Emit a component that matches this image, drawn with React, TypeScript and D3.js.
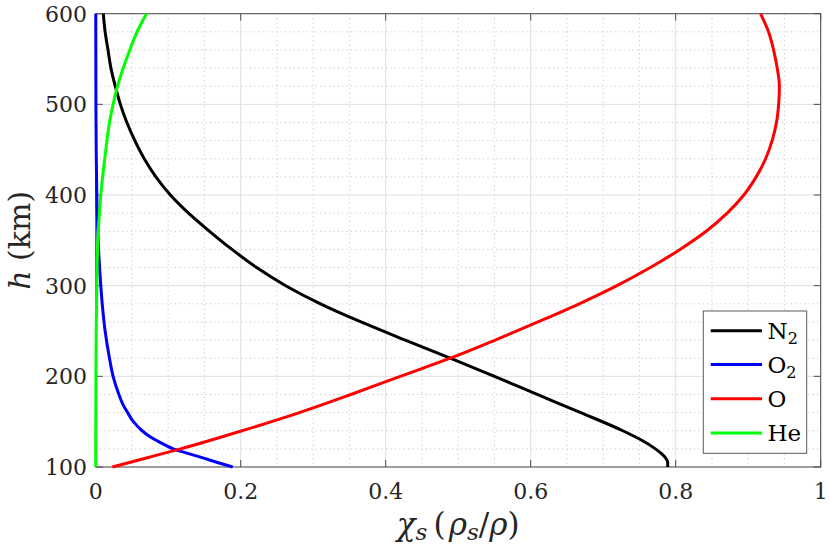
import React from "react";
import * as d3 from "d3";

// Altitude grids (km) and mass fractions
const hN2 = [100, 105, 110, 115, 120, 130, 140, 160, 180, 200, 220, 240, 260, 280, 300, 320, 340, 360, 380, 400, 420, 440, 460, 480, 500, 520, 540, 560, 580, 600];
const vN2 = [0.789, 0.789, 0.786, 0.78, 0.772, 0.752, 0.727, 0.669, 0.609, 0.55, 0.489, 0.427, 0.366, 0.31, 0.262, 0.222, 0.188, 0.157, 0.128, 0.103, 0.083, 0.067, 0.054, 0.043, 0.034, 0.027, 0.021, 0.017, 0.013, 0.0105];

const hO2 = [100, 105, 110, 115, 120, 125, 130, 135, 140, 150, 160, 170, 180, 200, 220, 250, 280, 300, 340, 400, 450, 500, 600];
const vO2 = [0.189, 0.168, 0.148, 0.127, 0.107, 0.094, 0.082, 0.072, 0.064, 0.052, 0.044, 0.037, 0.032, 0.024, 0.019, 0.013, 0.009, 0.007, 0.004, 0.0015, 0.0007, 0.0003, 0.0001];

const hO = [100, 110, 120, 140, 160, 180, 200, 220, 240, 260, 280, 300, 320, 340, 360, 380, 400, 420, 440, 460, 480, 500, 520, 540, 560, 580, 600];
const vO = [0.023, 0.07, 0.117, 0.202, 0.281, 0.352, 0.42, 0.489, 0.551, 0.61, 0.667, 0.719, 0.765, 0.806, 0.842, 0.871, 0.894, 0.911, 0.924, 0.933, 0.939, 0.942, 0.943, 0.94, 0.935, 0.928, 0.917];

const hHe = [100, 200, 250, 300, 350, 400, 450, 480, 500, 520, 540, 560, 580, 600];
const vHe = [0, 0.0003, 0.0007, 0.0015, 0.003, 0.007, 0.014, 0.019, 0.024, 0.03, 0.038, 0.047, 0.057, 0.07];

const seriesNames = ["N2", "O2", "O", "He"];
const seriesColors = ["#000000", "#0000ff", "#ff0000", "#00ff00"];
const seriesH = [hN2, hO2, hO, hHe];
const seriesV = [vN2, vO2, vO, vHe];

const xTicks = [0, 0.2, 0.4, 0.6, 0.8, 1];
const xTickLabels = ["0", "0.2", "0.4", "0.6", "0.8", "1"];
const yTicks = [100, 200, 300, 400, 500, 600];

const W = 830;
const H = 553;
const M = { left: 95.7, right: 820.7, top: 13.7, bottom: 467 };
const FONT = "'DejaVu Serif', 'Liberation Serif', serif";

export default function App() {
  const x = d3.scaleLinear().domain([0, 1]).range([M.left, M.right]);
  const y = d3.scaleLinear().domain([100, 600]).range([M.bottom, M.top]);

  const xMinor = d3.range(0, 1.0001, 0.05).filter((v) => Math.abs(v * 5 - Math.round(v * 5)) > 1e-6);
  const yMinor = d3.range(100, 600.1, 20).filter((v) => v % 100 !== 0);

  const line = d3
    .line<[number, number]>()
    .x((d) => x(d[0]))
    .y((d) => y(d[1]))
    .curve(d3.curveMonotoneY);

  const tickLen = 7;
  const axisColor = "#4d4d4d";

  const legend = { x0: 703.3, y0: 311, x1: 806.7, y1: 453.3 };
  const legendRows = [330.7, 364.5, 398.7, 433];

  const labelNode = (name: string) => {
    if (name === "N2" || name === "O2") {
      return (
        <>
          {name[0]}
          <tspan fontSize={16} dy={5}>2</tspan>
        </>
      );
    }
    return name;
  };

  return (
    <svg width={W} height={H} style={{ position: "absolute", left: 0, top: 0, background: "#fff" }}>
      <rect x={0} y={0} width={W} height={H} fill="#fff" />
      {/* minor grid */}
      <g stroke="#c8c8c8" strokeWidth={1} strokeDasharray="1.2,3.2">
        {xMinor.map((v) => (
          <line key={"xm" + v} x1={x(v)} x2={x(v)} y1={M.top} y2={M.bottom} />
        ))}
        {yMinor.map((v) => (
          <line key={"ym" + v} x1={M.left} x2={M.right} y1={y(v)} y2={y(v)} />
        ))}
      </g>
      {/* major grid */}
      <g stroke="#dedede" strokeWidth={1}>
        {xTicks.map((v) => (
          <line key={"xg" + v} x1={x(v)} x2={x(v)} y1={M.top} y2={M.bottom} />
        ))}
        {yTicks.map((v) => (
          <line key={"yg" + v} x1={M.left} x2={M.right} y1={y(v)} y2={y(v)} />
        ))}
      </g>
      {/* box and ticks */}
      <g stroke={axisColor} strokeWidth={1} fill="none">
        <rect x={M.left} y={M.top} width={M.right - M.left} height={M.bottom - M.top} />
        {xTicks.map((v) => (
          <g key={"xt" + v}>
            <line x1={x(v)} x2={x(v)} y1={M.bottom} y2={M.bottom - tickLen} />
            <line x1={x(v)} x2={x(v)} y1={M.top} y2={M.top + tickLen} />
          </g>
        ))}
        {yTicks.map((v) => (
          <g key={"yt" + v}>
            <line x1={M.left} x2={M.left + tickLen} y1={y(v)} y2={y(v)} />
            <line x1={M.right} x2={M.right - tickLen} y1={y(v)} y2={y(v)} />
          </g>
        ))}
      </g>
      {/* series */}
      <g fill="none" strokeWidth={3} strokeLinejoin="round">
        {seriesNames.map((name, i) => {
          const pts: [number, number][] = seriesH[i].map((h, j) => [seriesV[i][j], h]);
          return <path key={name} d={line(pts) || ""} stroke={seriesColors[i]} />;
        })}
      </g>
      {/* tick labels */}
      <g fontFamily={FONT} fontSize={22} fill="#262626">
        {xTicks.map((v, i) => (
          <text key={"xl" + v} x={x(v)} y={499} textAnchor="middle">
            {xTickLabels[i]}
          </text>
        ))}
        {yTicks.map((v) => (
          <text key={"yl" + v} x={87} y={y(v)} dy="0.36em" textAnchor="end">
            {v}
          </text>
        ))}
      </g>
      {/* axis labels */}
      <text x={(M.left + M.right) / 2} y={535} textAnchor="middle" fontFamily={FONT} fontSize={31} fill="#262626">
        <tspan fontStyle="italic">χ</tspan>
        <tspan fontStyle="italic" fontSize={23} dy={5}>s</tspan>
        <tspan dy={-5}>{"\u2009(\u200a"}</tspan>
        <tspan fontStyle="italic">ρ</tspan>
        <tspan fontStyle="italic" fontSize={23} dy={5}>s</tspan>
        <tspan dy={-5}>/</tspan>
        <tspan fontStyle="italic">ρ</tspan>
        <tspan>)</tspan>
      </text>
      <text
        transform={`translate(30,${(M.top + M.bottom) / 2}) rotate(-90)`}
        textAnchor="middle"
        fontFamily={FONT}
        fontSize={30}
        fill="#262626"
      >
        <tspan fontStyle="italic">h</tspan>
        <tspan> (km)</tspan>
      </text>
      {/* legend */}
      <rect x={legend.x0} y={legend.y0} width={legend.x1 - legend.x0} height={legend.y1 - legend.y0} fill="#fff" stroke="#5a5a5a" strokeWidth={1} />
      {seriesNames.map((name, i) => (
        <g key={"lg" + name}>
          <line x1={710.7} x2={762} y1={legendRows[i]} y2={legendRows[i]} stroke={seriesColors[i]} strokeWidth={3} />
          <text x={767.5} y={legendRows[i]} dy="0.36em" fontFamily={FONT} fontSize={23} fill="#000">
            {labelNode(name)}
          </text>
        </g>
      ))}
    </svg>
  );
}
